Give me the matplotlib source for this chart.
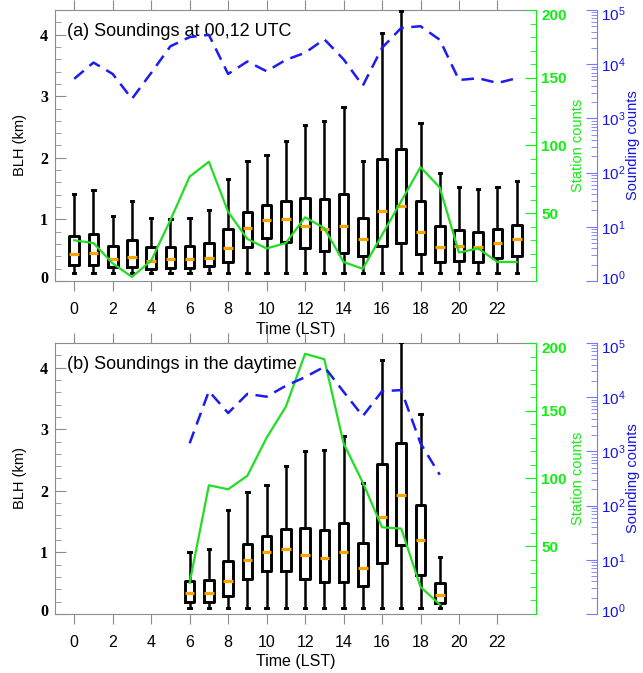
import matplotlib
matplotlib.use('Agg')
import matplotlib.pyplot as plt
from matplotlib.ticker import MultipleLocator, LogLocator, NullFormatter
from matplotlib.transforms import ScaledTranslation

plt.rcParams['font.family'] = ['Liberation Sans', 'DejaVu Sans']
plt.rcParams['mathtext.fontset'] = 'custom'
plt.rcParams['mathtext.rm'] = 'Liberation Sans'

# ---- panel (a): soundings at 00,12 UTC, every hour LST ----
hours_a = [0, 1, 2, 3, 4, 5, 6, 7, 8, 9, 10, 11, 12, 13, 14, 15, 16, 17, 18, 19, 20, 21, 22, 23]
whishi_a = [1.42, 1.47, 1.05, 1.30, 1.03, 1.01, 1.03, 1.16, 1.65, 1.95, 2.04, 2.28,
            2.53, 2.60, 2.83, 1.94, 4.02, 4.38, 2.57, 1.75, 1.52, 1.49, 1.52, 1.63]
q3_a = [0.73, 0.76, 0.57, 0.67, 0.55, 0.55, 0.57, 0.61, 0.85, 1.12, 1.24, 1.30,
        1.34, 1.33, 1.42, 1.02, 1.98, 2.14, 1.30, 0.89, 0.82, 0.79, 0.85, 0.91]
med_a = [0.44, 0.46, 0.35, 0.39, 0.33, 0.35, 0.35, 0.38, 0.53, 0.86, 0.99, 1.00,
         0.90, 0.85, 0.90, 0.68, 1.13, 1.21, 0.80, 0.55, 0.56, 0.55, 0.62, 0.68]
q1_a = [0.26, 0.26, 0.22, 0.23, 0.19, 0.21, 0.21, 0.24, 0.30, 0.55, 0.69, 0.64,
        0.53, 0.49, 0.46, 0.40, 0.56, 0.61, 0.43, 0.31, 0.33, 0.31, 0.38, 0.41]
whislo_a = [0.13, 0.13, 0.13, 0.13, 0.13, 0.13, 0.13, 0.13, 0.13, 0.13, 0.13, 0.13,
            0.13, 0.13, 0.13, 0.13, 0.13, 0.13, 0.13, 0.13, 0.13, 0.13, 0.13, 0.13]
stations_a = [30, 28, 13, 3, 15, 45, 77, 88, 51, 31, 24, 28, 47, 39, 14, 9, 34, 59, 84, 69, 21, 24, 14, 14]
soundings_a = [5370, 10700, 6600, 2290, 6900, 21400, 31600, 34700, 6600, 11200, 7400, 12000,
               16200, 28800, 12300, 4000, 20000, 46800, 50100, 28200, 5100, 5500, 4500, 5500]

# ---- panel (b): soundings in the daytime ----
hours_b = [6, 7, 8, 9, 10, 11, 12, 13, 14, 15, 16, 17, 18, 19]
whishi_b = [1.01, 1.05, 1.68, 1.98, 2.09, 2.41, 2.64, 2.67, 2.89, 2.12, 4.13, 4.42, 3.24, 0.93]
q3_b = [0.54, 0.55, 0.86, 1.13, 1.26, 1.38, 1.39, 1.37, 1.48, 1.15, 2.44, 2.77, 1.77, 0.50]
med_b = [0.34, 0.34, 0.54, 0.87, 1.00, 1.05, 0.95, 0.91, 1.00, 0.75, 1.57, 1.93, 1.20, 0.30]
q1_b = [0.20, 0.20, 0.29, 0.57, 0.70, 0.69, 0.57, 0.52, 0.52, 0.46, 0.83, 1.12, 0.63, 0.18]
whislo_b = [0.10, 0.10, 0.10, 0.10, 0.10, 0.10, 0.10, 0.10, 0.10, 0.10, 0.10, 0.10, 0.10, 0.10]
stations_b = [23, 95, 92, 102, 130, 153, 192, 188, 126, 97, 64, 63, 20, 7]
soundings_b = [1410, 12900, 5100, 11500, 10200, 16200, 23400, 36300, 12600, 4470, 12900, 13500, 1410, 370]

GREEN_LINE = '#22dd22'
GREEN_AX = '#11ee11'
BLUE_LINE = '#1c1cf0'
BLUE_AX = '#7878ff'
BLUE_TXT = '#1414e6'
FRAME = '#8c8c8c'


def draw_panel(fig, rect, hours, q1, med, q3, whislo, whishi, stations, soundings, title, xlab_y):
    ax = fig.add_axes(rect)
    stats = [dict(med=m, q1=a, q3=b, whislo=lo, whishi=hi)
             for a, m, b, lo, hi in zip(q1, med, q3, whislo, whishi)]
    ax.bxp(stats, positions=hours, widths=0.5, capwidths=0.12, showfliers=False,
           manage_ticks=False,
           boxprops=dict(color='black', lw=2.1, zorder=3),
           whiskerprops=dict(color='black', lw=1.8, zorder=3),
           capprops=dict(color='black', lw=2.1, zorder=3),
           medianprops=dict(color='#ffa500', lw=2.3, zorder=3.5, solid_capstyle='butt'))
    ax.set_xlim(-1, 24)
    ax.set_ylim(0, 4.4)
    ax.set_xticks(list(range(0, 23, 2)))
    ax.set_yticks([0, 1, 2, 3, 4], labels=['0', '1', '2', '3', '4'],
                  fontfamily='Liberation Serif', fontweight='bold', fontsize=11.5)
    ax.yaxis.set_minor_locator(MultipleLocator(0.2))
    ax.tick_params(axis='x', direction='out', top=True, bottom=True, length=7,
                   color=FRAME, labelsize=11.5, pad=8)
    ax.tick_params(axis='y', which='major', direction='in', length=8, color=FRAME, right=False, pad=5)
    ax.tick_params(axis='y', which='minor', direction='in', length=4.5, color=FRAME, right=False)
    for s in ['left', 'top', 'bottom']:
        ax.spines[s].set_color(FRAME)
    ax.spines['right'].set_visible(False)
    ax.set_ylabel('BLH (km)', fontsize=10.5, va='center')
    ax.yaxis.set_label_coords(-0.073, 0.5)
    ax.set_xlabel('Time (LST)', fontsize=11.5, va='center')
    ax.xaxis.set_label_coords(0.5, xlab_y)
    ax.text(0.025, 0.92, title, transform=ax.transAxes, fontsize=13, va='center', ha='left')

    # station counts
    ax2 = ax.twinx()
    ax2.plot(hours, stations, color=GREEN_LINE, lw=1.6)
    ax2.set_ylim(0, 200)
    ax2.set_yticks([50, 100, 150, 200], labels=['50', '100', '150', '200'],
                   fontweight='bold', fontsize=11)
    ax2.yaxis.set_minor_locator(MultipleLocator(10))
    ax2.tick_params(axis='y', which='major', direction='in', length=8, colors=GREEN_AX, pad=4)
    ax2.tick_params(axis='y', which='minor', direction='in', length=4.5, colors=GREEN_AX)
    for s in ['left', 'top', 'bottom']:
        ax2.spines[s].set_visible(False)
    ax2.spines['right'].set_color(GREEN_AX)
    ax2.set_ylabel('Station counts', color=GREEN_AX, fontsize=10.5, va='center')
    ax2.yaxis.set_label_coords(1.087, 0.5)

    # sounding counts
    ax3 = ax.twinx()
    ax3.plot(hours, soundings, color=BLUE_LINE, lw=1.8, ls=(0, (5, 3)))
    ax3.set_yscale('log')
    ax3.set_ylim(1, 1e5)
    ax3.spines['right'].set_position(('axes', 1.127))
    for s in ['left', 'top', 'bottom']:
        ax3.spines[s].set_visible(False)
    ax3.spines['right'].set_color(BLUE_AX)
    ax3.set_yticks([1, 10, 100, 1000, 10000, 100000],
                   labels=[r'$\mathdefault{10^{%d}}$' % k for k in range(6)], fontsize=11)
    ax3.yaxis.set_minor_locator(LogLocator(base=10, subs=(2, 3, 4, 5, 6, 7, 8, 9)))
    ax3.yaxis.set_minor_formatter(NullFormatter())
    ax3.tick_params(axis='y', which='major', direction='in', length=8, color=BLUE_AX,
                    labelcolor=BLUE_TXT, pad=3)
    ax3.tick_params(axis='y', which='minor', direction='in', length=4, color=BLUE_AX)
    ax3.set_ylabel('Sounding counts', color=BLUE_TXT, fontsize=10.5, va='center')
    ax3.yaxis.set_label_coords(1.202, 0.5)
    return ax, ax2, ax3


fig = plt.figure(figsize=(6.43, 6.73), dpi=100)
panel_a = draw_panel(fig, [0.0855, 0.5825, 0.748, 0.4027], hours_a, q1_a, med_a, q3_a,
                     whislo_a, whishi_a, stations_a, soundings_a,
                     '(a) Soundings at 00,12 UTC', -0.178)
panel_b = draw_panel(fig, [0.0855, 0.0877, 0.748, 0.4027], hours_b, q1_b, med_b, q3_b,
                     whislo_b, whishi_b, stations_b, soundings_b,
                     '(b) Soundings in the daytime', -0.174)

# keep end labels inside the axis range, as in the original
fig.canvas.draw()
for ax, ax2, ax3 in [panel_a, panel_b]:
    lbl = ax.get_yticklabels()[0]
    lbl.set_transform(lbl.get_transform() + ScaledTranslation(0, 3 / 72, fig.dpi_scale_trans))
    lbl = ax2.get_yticklabels()[-1]
    lbl.set_transform(lbl.get_transform() + ScaledTranslation(0, -3.5 / 72, fig.dpi_scale_trans))
    lbls = ax3.get_yticklabels()
    lbls[0].set_transform(lbls[0].get_transform() + ScaledTranslation(0, 3 / 72, fig.dpi_scale_trans))
    lbls[-1].set_transform(lbls[-1].get_transform() + ScaledTranslation(0, -2 / 72, fig.dpi_scale_trans))

fig.savefig('out.png', dpi=100)
